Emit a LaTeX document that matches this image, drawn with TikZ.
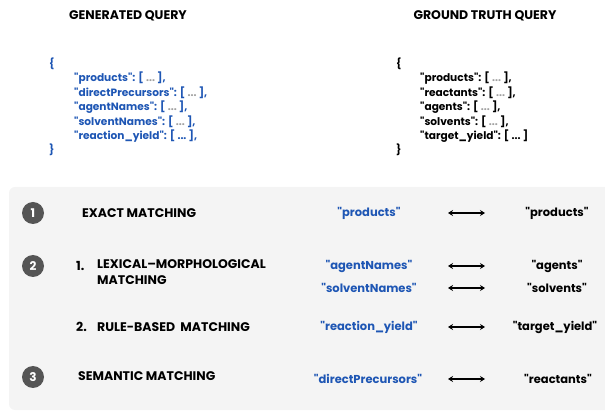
\documentclass[tikz,border=0pt]{standalone}
\usepackage{fontspec}
\newfontfamily\popfont{Poppins}
\usetikzlibrary{arrows.meta}
\definecolor{qblue}{HTML}{1E56B4}
\definecolor{panelgray}{HTML}{F4F4F4}
\definecolor{stepgray}{HTML}{555555}
\definecolor{dotgray}{HTML}{A0A0A0}
\newcommand{\qdots}{\textcolor{dotgray}{...}}
\newcommand{\qdotsdark}{...}
\tikzset{
  txt/.style={inner sep=0pt, font=\popfont\bfseries\fontsize{12.5}{16}\selectfont},
  field/.style={txt, font=\popfont\bfseries\fontsize{11.5}{13}\selectfont},
  json/.style={txt, anchor=west, font=\popfont\bfseries\fontsize{10.6}{12}\selectfont},
  stepnum/.style={circle, fill=stepgray, text=white, minimum size=22pt, inner sep=0pt,
    font=\popfont\bfseries\fontsize{12}{12}\selectfont},
  pairarrow/.style={<->, line width=1.1pt, >={Stealth[length=5pt, width=6pt]}}
}
\begin{document}
\begin{tikzpicture}[x=1pt, y=-1pt]
    \useasboundingbox (0,0) rectangle (605,411);

    % 1. Headers
    \node[txt] (genhead) at (128,16) {GENERATED QUERY};
    \node[txt] (gthead) at (485,16) {GROUND TRUTH QUERY};

    % 2. Generated query (blue)
    \node[json, text=qblue] (genopen) at (49,64) {\{};
    \foreach \line [count=\i] in {%
        {"products": [ \qdots\ ],},
        {"directPrecursors": [ \qdots\ ],},
        {"agentNames": [ \qdots\ ],},
        {"solventNames": [ \qdots\ ],},
        {"reaction\_yield": [ \qdotsdark\ ],}}
      \node[json, text=qblue] (gen\i) at (74,64+14.4*\i) {\line};
    \node[json, text=qblue] (genclose) at (49,150) {\}};

    % 3. Ground truth query (black)
    \node[json] (gtopen) at (396,64) {\{};
    \foreach \line [count=\i] in {%
        {"products": [ \qdots\ ],},
        {"reactants": [ \qdots\ ],},
        {"agents": [ \qdots\ ],},
        {"solvents": [ \qdots\ ],},
        {"target\_yield": [ \qdotsdark\ ]}}
      \node[json] (gt\i) at (420,64+14.4*\i) {\line};
    \node[json] (gtclose) at (396,150) {\}};

    % 4. Grey panel
    \fill[panelgray, rounded corners=6pt] (9,187) rectangle (620,410);

    % 5. Matching steps
    \node[stepnum] (s1) at (33,213) {1};
    \node[stepnum] (s2) at (33,266) {2};
    \node[stepnum] (s3) at (33,377) {3};

    \node[txt, anchor=west] (exact) at (82,213) {EXACT MATCHING};
    \node[txt, anchor=west] (lexnum) at (76,266) {1.};
    \node[txt, anchor=north west, align=left] (lex) at (97,259) {LEXICAL–MORPHOLOGICAL\\MATCHING};
    \node[txt, anchor=west] (rulenum) at (76,327) {2.};
    \node[txt, anchor=west] (rule) at (97,327) {RULE-BASED\ \ MATCHING};
    \node[txt, anchor=west] (sem) at (78,376) {SEMANTIC MATCHING};

    % 6. Field pairs
    \node[field, text=qblue] (p1) at (369,213) {"products"};
    \node[field, text=qblue] (p2) at (369,266) {"agentNames"};
    \node[field, text=qblue] (p3) at (369,288) {"solventNames"};
    \node[field, text=qblue] (p4) at (369,327) {"reaction\_yield"};
    \node[field, text=qblue] (p5) at (368,379) {"directPrecursors"};

    \node[field] (q1) at (557,213) {"products"};
    \node[field] (q2) at (557,266) {"agents"};
    \node[field] (q3) at (557,288) {"solvents"};
    \node[field] (q4) at (555,327) {"target\_yield"};
    \node[field] (q5) at (558,379) {"reactants"};

    % 7. Double arrows
    \foreach \i/\y in {1/213, 2/266, 3/288, 4/327, 5/379} {
      \coordinate (al\i) at (448,\y);
      \coordinate (ar\i) at (485,\y);
      \draw[pairarrow] (al\i) -- (ar\i);
    }
\end{tikzpicture}
\end{document}
